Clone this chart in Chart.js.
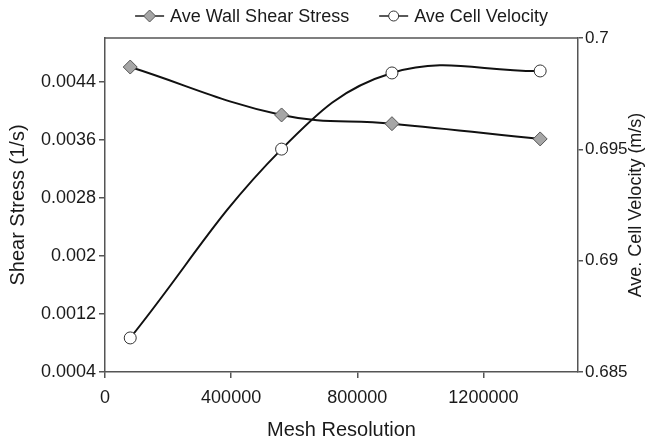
<!DOCTYPE html>
<html>
<head>
<meta charset="utf-8">
<script src="https://cdn.jsdelivr.net/npm/chart.js@4/dist/chart.umd.min.js"></script>
<style>
html,body{margin:0;padding:0;background:#fff;}
#wrap{width:645px;height:444px;position:relative;}
</style>
</head>
<body>
<div id="wrap"><canvas id="c" width="645" height="444"></canvas></div>
<script>
// ---- data ----
const meshResolution = [80000, 560000, 910000, 1380000];
const wallShearStress = [0.0046, 0.00394, 0.00382, 0.00361];
const cellVelocity = [0.68653, 0.69501, 0.69843, 0.69852];
const xTicks = [0, 400000, 800000, 1200000];
const leftTicks = [0.0004, 0.0012, 0.002, 0.0028, 0.0036, 0.0044];
const rightTicks = [0.685, 0.69, 0.695, 0.7];
const seriesNames = ['Ave Wall Shear Stress', 'Ave Cell Velocity'];
const axisTitles = {x: 'Mesh Resolution', y: 'Shear Stress (1/s)', y2: 'Ave. Cell Velocity (m/s)'};

const FONT = "'Liberation Sans', Arial, sans-serif";
const AXIS = '#555555';
const TXT = '#1a1a1a';

const framePlugin = {
  id: 'frame',
  afterDraw(chart) {
    const {ctx, chartArea: a} = chart;
    ctx.save();
    // top frame line
    ctx.strokeStyle = AXIS;
    ctx.lineWidth = 1.5;
    ctx.beginPath();
    ctx.moveTo(a.left, a.top);
    ctx.lineTo(a.right, a.top);
    ctx.stroke();
    // right axis title (reads bottom to top)
    ctx.save();
    ctx.font = '18px ' + FONT;
    ctx.fillStyle = TXT;
    ctx.translate(641, (a.top + a.bottom) / 2);
    ctx.rotate(-Math.PI / 2);
    ctx.textAlign = 'center';
    ctx.textBaseline = 'alphabetic';
    ctx.fillText(axisTitles.y2, 0, 0);
    ctx.restore();
    // legend
    const items = chart.data.datasets;
    ctx.font = '18px ' + FONT;
    const lineW = 29, gapT = 6, gapI = 30;
    const widths = items.map(d => lineW + gapT + ctx.measureText(d.label).width);
    const total = widths.reduce((s, w) => s + w, 0) + gapI * (items.length - 1);
    let x = (a.left + a.right) / 2 - total / 2;
    const y = 16;
    items.forEach((d, i) => {
      ctx.strokeStyle = '#222';
      ctx.lineWidth = 1.5;
      ctx.beginPath();
      ctx.moveTo(x, y); ctx.lineTo(x + lineW, y); ctx.stroke();
      const cx = x + lineW / 2;
      ctx.fillStyle = d.pointBackgroundColor;
      ctx.strokeStyle = d.pointBorderColor;
      ctx.lineWidth = 1;
      ctx.beginPath();
      if (d.pointStyle === 'rectRot') {
        const r = 6;
        ctx.moveTo(cx, y - r); ctx.lineTo(cx + r, y); ctx.lineTo(cx, y + r); ctx.lineTo(cx - r, y); ctx.closePath();
      } else {
        ctx.arc(cx, y, 5, 0, Math.PI * 2);
      }
      ctx.fill(); ctx.stroke();
      ctx.fillStyle = TXT;
      ctx.textBaseline = 'middle';
      ctx.textAlign = 'left';
      ctx.fillText(d.label, x + lineW + gapT, y + 1);
      x += widths[i] + gapI;
    });
    ctx.restore();
  }
};

new Chart(document.getElementById('c'), {
  type: 'line',
  data: {
    datasets: [
      {
        label: seriesNames[0],
        data: meshResolution.map((x, i) => ({x, y: wallShearStress[i]})),
        yAxisID: 'y',
        borderColor: '#111',
        borderWidth: 2,
        tension: 0.4,
        pointStyle: 'rectRot',
        pointRadius: 7,
        pointBackgroundColor: '#a6a6a6',
        pointBorderColor: '#555',
        pointBorderWidth: 1,
        fill: false
      },
      {
        label: seriesNames[1],
        data: meshResolution.map((x, i) => ({x, y: cellVelocity[i]})),
        yAxisID: 'y2',
        borderColor: '#111',
        borderWidth: 2,
        tension: 0.4,
        pointStyle: 'circle',
        pointRadius: 6,
        pointBackgroundColor: '#ffffff',
        pointBorderColor: '#333',
        pointBorderWidth: 1,
        fill: false
      }
    ]
  },
  options: {
    responsive: false,
    animation: false,
    layout: {padding: {top: 38, left: 0, right: 0, bottom: 0}},
    plugins: {legend: {display: false}, tooltip: {enabled: false}},
    scales: {
      x: {
        type: 'linear',
        min: 0, max: 1500000,
        afterBuildTicks: s => { s.ticks = xTicks.map(v => ({value: v})); },
        afterFit: s => { s.height = 72; },
        ticks: {color: TXT, font: {family: FONT, size: 18}, padding: 9, maxRotation: 0, callback: v => String(v)},
        grid: {display: true, drawOnChartArea: false, drawTicks: true, tickLength: 6, color: AXIS, lineWidth: 1.5},
        border: {display: true, color: AXIS, width: 1.5},
        title: {display: true, text: axisTitles.x, color: TXT, font: {family: FONT, size: 20}, padding: {top: 0, bottom: 2}}
      },
      y: {
        type: 'linear', position: 'left',
        min: 0.0004, max: 0.005,
        afterBuildTicks: s => { s.ticks = leftTicks.map(v => ({value: v})); },
        afterFit: s => { s.width = 105; },
        ticks: {color: TXT, font: {family: FONT, size: 18}, padding: 3, callback: v => String(v)},
        grid: {display: true, drawOnChartArea: false, drawTicks: true, tickLength: 6, color: AXIS, lineWidth: 1.5},
        border: {display: true, color: AXIS, width: 1.5},
        title: {display: true, text: axisTitles.y, color: TXT, font: {family: FONT, size: 20}, padding: {top: 6, bottom: 0}}
      },
      y2: {
        type: 'linear', position: 'right',
        min: 0.685, max: 0.7,
        afterBuildTicks: s => { s.ticks = rightTicks.map(v => ({value: v})); },
        afterFit: s => { s.width = 67; },
        ticks: {color: TXT, font: {family: FONT, size: 17}, padding: 2, callback: v => String(v)},
        grid: {display: true, drawOnChartArea: false, drawTicks: true, tickLength: 5, color: AXIS, lineWidth: 1.5},
        border: {display: true, color: AXIS, width: 1.5},
        title: {display: false}
      }
    }
  },
  plugins: [framePlugin]
});
</script>
</body>
</html>
